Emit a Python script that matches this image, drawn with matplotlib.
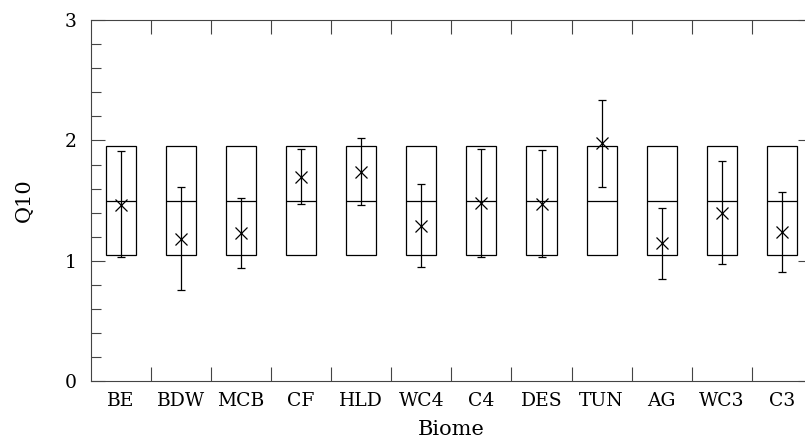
import numpy as np
import matplotlib
matplotlib.use("Agg")
import matplotlib.pyplot as plt
from matplotlib.ticker import MultipleLocator

# --- data ---
biomes = ["BE", "BDW", "MCB", "CF", "HLD", "WC4", "C4", "DES", "TUN", "AG", "WC3", "C3"]
box_low = [1.05] * 12
box_mid = [1.5] * 12
box_high = [1.95] * 12
q10 = [1.46, 1.18, 1.23, 1.70, 1.74, 1.29, 1.48, 1.47, 1.98, 1.15, 1.40, 1.24]
q10_hi = [1.91, 1.61, 1.52, 1.93, 2.02, 1.64, 1.93, 1.92, 2.34, 1.44, 1.83, 1.57]
q10_lo = [1.03, 0.76, 0.94, 1.47, 1.46, 0.95, 1.03, 1.03, 1.61, 0.85, 0.97, 0.91]

plt.rcParams['font.family'] = ['DejaVu Serif']

fig = plt.figure(figsize=(8.05, 4.38), dpi=100)
# axes runs off the right edge like the original
ax = fig.add_axes([0.1127, 0.130, 0.896, 0.824])

x = np.arange(1, len(biomes) + 1)

# boxes
heights = [h - l for h, l in zip(box_high, box_low)]
ax.bar(x, heights, bottom=box_low, width=0.5, fill=False, edgecolor='black', linewidth=0.9)
ax.hlines(box_mid, x - 0.25, x + 0.25, color='black', linewidth=0.9)

# mean + error bars
yerr = [np.array(q10) - np.array(q10_lo), np.array(q10_hi) - np.array(q10)]
ax.errorbar(x, q10, yerr=yerr, fmt='x', color='black', markersize=9, markeredgewidth=0.9,
            elinewidth=0.9, capsize=3, capthick=0.9)

ax.set_xlim(0.5, 12.5)
ax.set_ylim(0, 3)

ax.set_xticks(x)
ax.set_xticklabels(biomes, fontsize=13.5)
ax.set_xticks(np.arange(1.5, 12.5, 1.0), minor=True)
ax.tick_params(axis='x', which='major', length=0, pad=8)
ax.tick_params(axis='x', which='minor', direction='in', length=10, top=True, bottom=True, width=0.8, color='#444444')

ax.yaxis.set_major_locator(MultipleLocator(1))
ax.yaxis.set_minor_locator(MultipleLocator(0.2))
ax.tick_params(axis='y', which='major', direction='in', length=10, left=True, right=True, labelsize=13.5, pad=10, width=0.8, color='#444444')
ax.tick_params(axis='y', which='minor', direction='in', length=7, left=True, right=False, width=0.8, color='#444444')

for s in ax.spines.values():
    s.set_color('#444444')
    s.set_linewidth(0.8)

ax.set_xlabel('Biome', fontsize=15, labelpad=7)
ax.set_ylabel('Q10', fontsize=15, labelpad=22)

fig.savefig('out.png', dpi=100)
